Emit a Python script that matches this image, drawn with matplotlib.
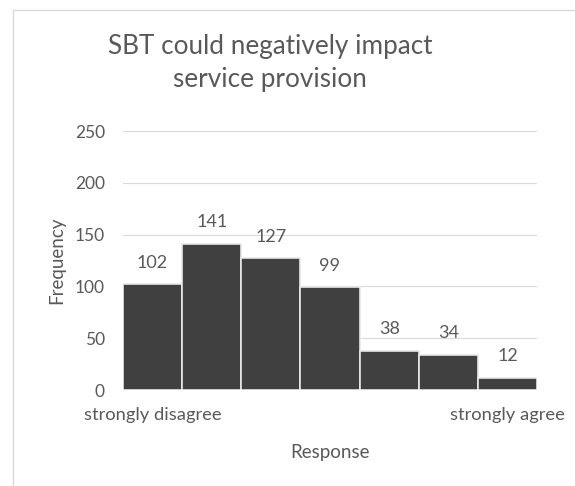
import matplotlib.pyplot as plt
from matplotlib.lines import Line2D

# data
responses = ["strongly disagree", "", "", "", "", "", "strongly agree"]
counts = [102, 141, 127, 99, 38, 34, 12]
yticks = [0, 50, 100, 150, 200, 250]

plt.rcParams["font.family"] = ["Lato", "DejaVu Sans"]
text_color = "#595959"

fig = plt.figure(figsize=(5.75, 4.86), dpi=100)
ax = fig.add_axes([123 / 575, 1 - 390 / 486, 414 / 575, 259 / 486])

x = range(len(counts))
ax.bar(x, counts, width=1.0, color="#404040", edgecolor="#e8e8e8",
       linewidth=1.2, zorder=3)
for xi, c in zip(x, counts):
    ax.text(xi, c + 21, str(c), ha="center", va="center", fontsize=13,
            color=text_color)

ax.set_xlim(-0.5, len(counts) - 0.5)
ax.set_ylim(0, 250)
ax.set_yticks(yticks)
ax.set_yticklabels([str(t) for t in yticks], fontsize=12.5, color=text_color)
ax.set_xticks(list(x))
ax.set_xticklabels(responses, fontsize=13.2, color=text_color)
ax.tick_params(axis="both", length=0)
ax.tick_params(axis="y", pad=13)
ax.tick_params(axis="x", pad=12)
ax.grid(axis="y", color="#d9d9d9", linewidth=0.8, zorder=0)
for s in ax.spines.values():
    s.set_visible(False)

ax.set_xlabel("Response", fontsize=13.5, color=text_color, va="center")
ax.xaxis.set_label_coords(0.5, (390 - 452) / 259)
ax.set_ylabel("Frequency", fontsize=13.5, color=text_color, va="center")
ax.yaxis.set_label_coords((57 - 123) / 414, 0.5)

fig.text(270 / 575, 1 - 63 / 486, "SBT could negatively impact\nservice provision",
         ha="center", va="center", fontsize=18.8, color=text_color,
         linespacing=1.4)

# chart border (Excel style)
fig.add_artist(Line2D([13 / 575, 13 / 575], [0, 1 - 10 / 486],
                      transform=fig.transFigure, color="#d9d9d9", linewidth=1))
fig.add_artist(Line2D([13 / 575, 1], [1 - 10 / 486, 1 - 10 / 486],
                      transform=fig.transFigure, color="#d9d9d9", linewidth=1))

fig.savefig("out.png", dpi=100)
